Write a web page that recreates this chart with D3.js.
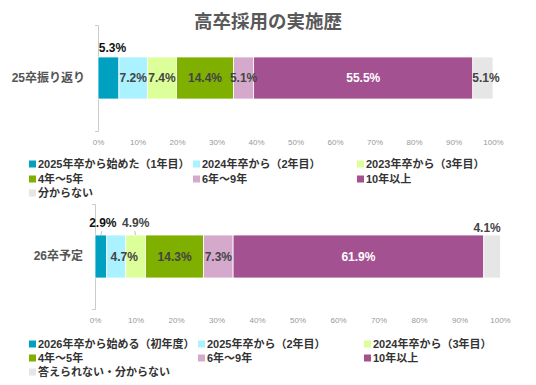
<!DOCTYPE html>
<html>
<head>
<meta charset="utf-8">
<script src="https://d3js.org/d3.v7.min.js"></script>
<style>
  body { margin: 0; background: #fff; }
  text { font-family: "Liberation Sans", Arial, "Noto Sans CJK JP", sans-serif; }
</style>
</head>
<body>
<svg width="536" height="385"></svg>
<script>
// ---------------- data ----------------
const title = "高卒採用の実施歴";
const ticks = [0, 10, 20, 30, 40, 50, 60, 70, 80, 90, 100];
const colors = ["#00A0C0", "#AAF2FF", "#DDFF99", "#7FB000", "#D5A9CC", "#A35190", "#E6E6E6"];

const categories25 = ["25卒振り返り"];
const values25 = [5.3, 7.2, 7.4, 14.4, 5.1, 55.5, 5.1];
const legend25 = ["2025年卒から始めた（1年目）", "2024年卒から（2年目）", "2023年卒から（3年目）",
                  "4年～5年", "6年～9年", "10年以上", "分からない"];

const categories26 = ["26卒予定"];
const values26 = [2.9, 4.7, 4.9, 14.3, 7.3, 61.9, 4.1];
const legend26 = ["2026年卒から始める（初年度）", "2025年卒から（2年目）", "2024年卒から（3年目）",
                  "4年～5年", "6年～9年", "10年以上", "答えられない・分からない"];

// ---------------- layout ----------------
const svg = d3.select("svg");

svg.append("text")
  .attr("x", 268).attr("y", 28)
  .attr("text-anchor", "middle")
  .style("font-size", "18.5px").style("font-weight", "bold")
  .style("fill", "#595959")
  .text(title);

const charts = [
  { cats: categories25, vals: values25, legend: legend25,
    xr: [98, 493], yr: [25, 131], pad: 0.432, axisY: 139, labelPad: 13,
    legendX: [29, 193, 357], legendY: [164, 179, 193],
    // label placement: [mode, dx, dy(for above: baseline offset from bar top)]
    place: [["above", 4, -5], ["in", 0], ["in", 0], ["in", 0], ["in", 0], ["in", 0], ["in", 3]],
    strong: [0] },
  { cats: categories26, vals: values26, legend: legend26,
    xr: [95, 500], yr: [204, 309], pad: 0.419, axisY: 317, labelPad: 12,
    legendX: [29, 198, 364], legendY: [344, 358, 372],
    place: [["above", 2, -8], ["in", 8], ["above", 0, -8], ["in", 0], ["in", 0], ["in", 0], ["above", -5, -3]],
    strong: [0] }
];

charts.forEach(function(c) {
  const x = d3.scaleLinear().domain([0, 100]).range(c.xr);
  const y = d3.scaleBand().domain(c.cats).range(c.yr).paddingInner(c.pad).paddingOuter(c.pad);

  // x tick labels
  const xa = svg.append("g")
    .attr("transform", "translate(0," + c.axisY + ")")
    .call(d3.axisBottom(x).tickValues(ticks).tickSize(0).tickPadding(0).tickFormat(d => d + "%"));
  xa.select(".domain").remove();
  xa.selectAll("text").style("font-size", "8px").style("fill", "#999")
    .style("font-family", "Liberation Sans, Arial, sans-serif");

  // y axis
  const ya = svg.append("g")
    .attr("transform", "translate(" + c.xr[0] + ",0)")
    .call(d3.axisLeft(y).tickSizeInner(0).tickSizeOuter(3).tickPadding(c.labelPad));
  ya.select(".domain").attr("stroke", "#ccc");
  ya.selectAll("text").style("font-size", "12px").style("font-weight", "bold").style("fill", "#555");

  // stacked segments
  let acc = 0;
  const segs = c.vals.map(function(v, i) {
    const s = { v: v, i: i, x0: acc, x1: acc + v };
    acc += v;
    return s;
  });
  const cat = c.cats[0];
  const top = y(cat), bw = y.bandwidth();

  svg.append("g").selectAll("rect")
    .data(segs).enter().append("rect")
    .attr("x", d => x(d.x0))
    .attr("y", top)
    .attr("width", d => x(d.x1) - x(d.x0))
    .attr("height", bw)
    .attr("fill", d => colors[d.i])
    .attr("stroke", "#fff").attr("stroke-width", 0.8);

  // value labels
  const lg = svg.append("g");
  segs.forEach(function(d) {
    const p = c.place[d.i];
    const cx = (x(d.x0) + x(d.x1)) / 2 + p[1];
    const t = lg.append("text")
      .attr("x", cx)
      .attr("text-anchor", "middle")
      .style("font-size", "12px").style("font-weight", "bold")
      .text(d.v.toFixed(1) + "%");
    if (p[0] === "in") {
      t.attr("y", top + bw / 2).attr("dy", "0.35em")
        .style("fill", d.i === 5 ? "#fff" : "#444");
    } else {
      t.attr("y", top + p[2])
        .style("fill", c.strong.indexOf(d.i) >= 0 ? "#111" : "#444");
      if (p[2] < -6) {
        lg.append("line")
          .attr("x1", cx - 1).attr("y1", top + p[2] + 4)
          .attr("x2", (x(d.x0) + x(d.x1)) / 2).attr("y2", top)
          .attr("stroke", "#aaa").attr("stroke-width", 0.7);
      }
    }
  });

  // legend
  const leg = svg.append("g");
  c.legend.forEach(function(name, i) {
    const lx = c.legendX[i % 3], ly = c.legendY[Math.floor(i / 3)];
    leg.append("rect")
      .attr("x", lx).attr("y", ly - 3.5)
      .attr("width", 7).attr("height", 7)
      .attr("fill", colors[i]);
    leg.append("text")
      .attr("x", lx + 9).attr("y", ly).attr("dy", "0.36em")
      .style("font-size", "11px").style("font-weight", "bold").style("fill", "#333")
      .text(name);
  });
});
</script>
</body>
</html>
